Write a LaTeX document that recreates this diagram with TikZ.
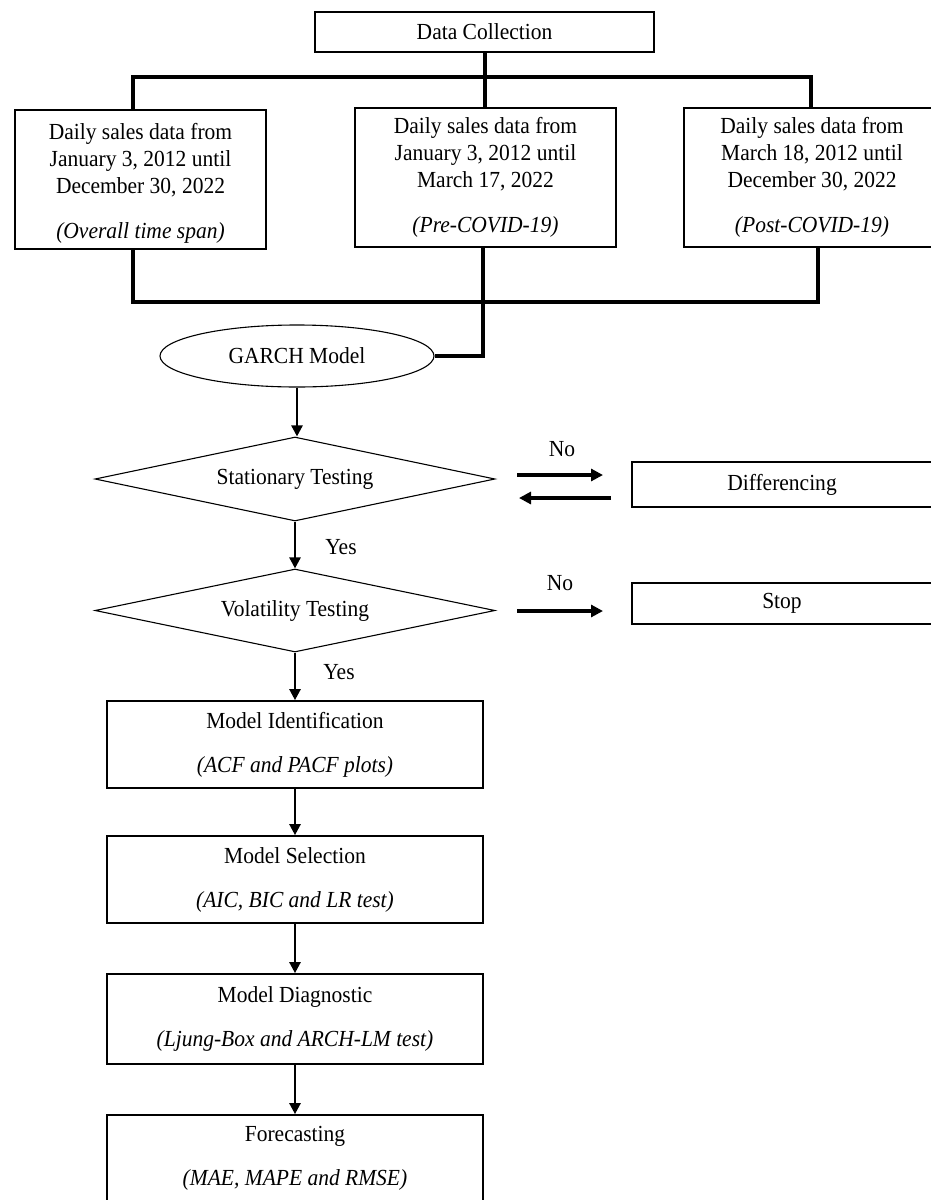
\documentclass[tikz,border=0pt]{standalone}
\usepackage{fontspec}
\setmainfont[FakeStretch=0.935]{Liberation Serif}
\usetikzlibrary{shapes.geometric,arrows.meta}
\begin{document}
\begin{tikzpicture}[x=1pt,y=-1pt,
  every node/.style={font=\fontsize{23}{27}\selectfont},
  rbox/.style={draw,line width=1.7pt,rectangle,inner sep=0pt,align=center},
  bus/.style={line width=4pt},
  arr/.style={line width=2.4pt,-{Triangle[length=11pt,width=11pt]}},
  harr/.style={line width=3.2pt,-{Triangle[length=12pt,width=12pt]}},
  dia/.style={draw,line width=1.1pt,diamond,aspect=4.76,inner sep=0pt},
  lbl/.style={inner sep=0pt}]
\useasboundingbox (0,0) rectangle (930,1200);
% top
\node[rbox,minimum width=339pt,minimum height=40pt] (dc) at (484.5,32) {Data Collection};
\node[rbox,minimum width=251pt,minimum height=139pt] (b1) at (140.5,179.5) {};
\node[lbl,align=center] (b1t) at (140.5,183) 
  {Daily sales data from\\January 3, 2012 until\\December 30, 2022\\[18pt]\textit{(Overall time span)}};
\node[rbox,minimum width=261pt,minimum height=139pt] (b2) at (485.5,177.5)
  {Daily sales data from\\January 3, 2012 until\\March 17, 2022\\[18pt]\textit{(Pre-COVID-19)}};
\node[rbox,minimum width=256pt,minimum height=139pt] (b3) at (812,177.5)
  {Daily sales data from\\March 18, 2012 until\\December 30, 2022\\[18pt]\textit{(Post-COVID-19)}};
\coordinate (t1) at (133,77);
\coordinate (t3) at (811,77);
\draw[bus] (b1.north -| t1) -- (t1) -- (t3) -- (b3.north -| t3);
\draw[bus] (dc.south) -- (dc.south |- b2.north);
% ellipse
\node[draw,line width=1.1pt,ellipse,inner sep=0pt,minimum width=274pt,minimum height=62pt] (garch) at (297,356) {GARCH Model};
\coordinate (u1) at (133,302);
\coordinate (u2) at (483,302);
\coordinate (u3) at (818,302);
\draw[bus] (b1.south -| u1) -- (u1) -- (u3) -- (b3.south -| u3);
\draw[bus] (b2.south -| u2) -- (u2 |- garch.east) -- (garch.east);
% diamonds
\node[dia,minimum width=400pt,minimum height=84pt] (d1) at (295,479) {Stationary Testing};
\node[dia,minimum width=400pt,minimum height=83pt] (d2) at (295,610.5) {Volatility Testing};
\node[rbox,minimum width=300pt,minimum height=45pt] (diff) at (782,484.5) {Differencing};
\node[rbox,minimum width=300pt,minimum height=41pt] (stop) at (782,603.5) {Stop};
\node[lbl] (no1) at (562,449) {No};
\node[lbl] (no2) at (560,583) {No};
\node[lbl] (yes1) at (341,547) {Yes};
\node[lbl] (yes2) at (339,672) {Yes};
\coordinate (a1s) at (517,475);
\coordinate (a1e) at (603,475);
\coordinate (a2s) at (611,498);
\coordinate (a2e) at (519,498);
\coordinate (a3s) at (517,611);
\coordinate (a3e) at (603,611);
\draw[harr] (a1s) -- (a1e);
\draw[harr] (a2s) -- (a2e);
\draw[harr] (a3s) -- (a3e);
% lower boxes
\node[rbox,minimum width=376pt,minimum height=87pt] (mi) at (295,744.5)
  {Model Identification\\[17pt]\textit{(ACF and PACF plots)}};
\node[rbox,minimum width=376pt,minimum height=87pt] (ms) at (295,879.5)
  {Model Selection\\[17pt]\textit{(AIC, BIC and LR test)}};
\node[rbox,minimum width=376pt,minimum height=90pt] (md) at (295,1019)
  {Model Diagnostic\\[17pt]\textit{(Ljung-Box and ARCH-LM test)}};
\node[rbox,minimum width=376pt,minimum height=87pt] (fc) at (295,1158.5)
  {Forecasting\\[17pt]\textit{(MAE, MAPE and RMSE)}};
\draw[arr] (garch.south) -- (garch.south |- d1.north);
\draw[arr] (d1.south) -- (d2.north);
\draw[arr] (d2.south) -- (mi.north);
\draw[arr] (mi.south) -- (ms.north);
\draw[arr] (ms.south) -- (md.north);
\draw[arr] (md.south) -- (fc.north);
\end{tikzpicture}
\end{document}
